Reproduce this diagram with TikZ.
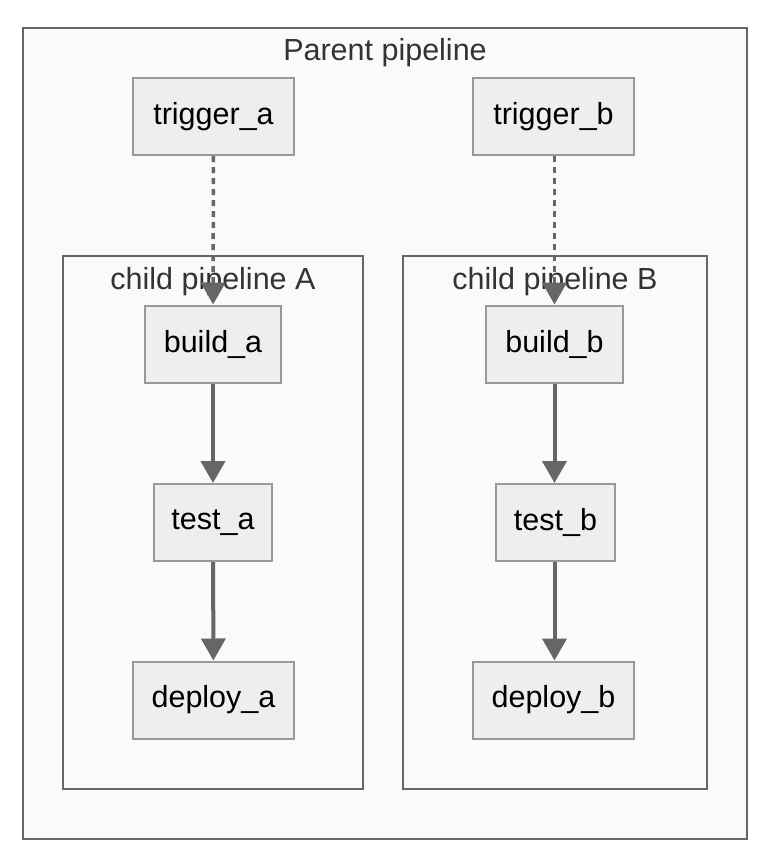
\documentclass[tikz,border=0pt]{standalone}
\usepackage{fontspec}
\setmainfont{Liberation Sans}
\usetikzlibrary{
    positioning,
    arrows.meta
}
\definecolor{framegray}{HTML}{666666}
\definecolor{boxgray}{HTML}{999999}
\definecolor{boxfill}{HTML}{EEEEEE}
\definecolor{bgfill}{HTML}{FAFAFA}
\definecolor{titlegray}{HTML}{333333}

\begin{document}
\begin{tikzpicture}[x=1pt, y=-1pt,
        job/.style={draw=boxgray, fill=boxfill, line width=2pt, minimum height=77pt,
            font=\fontsize{30.5}{35}\selectfont, text=black},
        pipe/.style={draw=framegray, line width=2pt, inner sep=0pt},
        title/.style={font=\fontsize{30.5}{35}\selectfont, text=titlegray},
        flow/.style={draw=framegray, line width=4pt, -{Triangle[width=24pt,length=22pt]}},
        spawn/.style={flow, line width=3.5pt, dash pattern=on 6pt off 5pt}
    ]
        \useasboundingbox (0,0) rectangle (762,854);

        % Foreldre-pipeline
        \node[pipe, fill=bgfill, minimum width=724pt, minimum height=811pt] (parent) at (385,433.5) {};
        \node[title] (parenttitle) at (385,53) {Parent pipeline};

        % Barne-pipelines
        \node[pipe, fill=bgfill, minimum width=300pt, minimum height=533pt] (childA) at (213,522.5) {};
        \node[title] (titleA) at (213,282) {child pipeline A};
        \node[pipe, fill=bgfill, minimum width=304pt, minimum height=533pt] (childB) at (555,522.5) {};
        \node[title] (titleB) at (555,282) {child pipeline B};

        % Jobber
        \node[job, minimum width=161pt] (trigger_a) at (213.5,116.5) {trigger\_a};
        \node[job, minimum width=161pt] (trigger_b) at (553.5,116.5) {trigger\_b};

        \node[job, minimum width=136pt] (build_a) at (213,344) {build\_a};
        \node[job, minimum width=118pt] (test_a) at (213,522.5) {test\_a};
        \node[job, minimum width=161pt] (deploy_a) at (213.5,700) {deploy\_a};

        \node[job, minimum width=137pt] (build_b) at (554.5,344) {build\_b};
        \node[job, minimum width=119pt] (test_b) at (555.5,522.5) {test\_b};
        \node[job, minimum width=161pt] (deploy_b) at (553.5,700) {deploy\_b};

        % Piler
        \draw[spawn] (trigger_a) -- (build_a);
        \draw[spawn] (trigger_b.south -| build_b) -- (build_b);
        \draw[flow] (build_a) -- (test_a);
        \draw[flow] (test_a) -- (deploy_a);
        \draw[flow] (build_b) -- (test_b.north -| build_b);
        \draw[flow] (test_b.south -| build_b) -- (deploy_b.north -| build_b);
    \end{tikzpicture}
\end{document}
